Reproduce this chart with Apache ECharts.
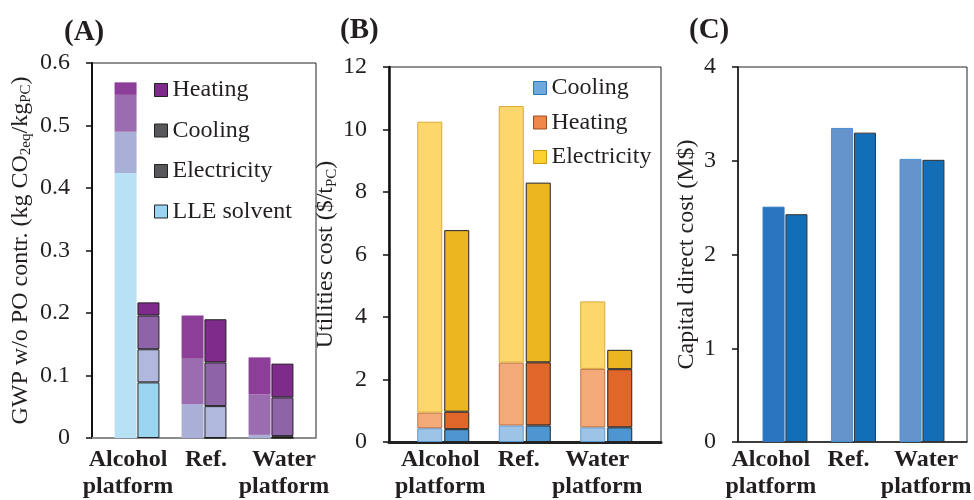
<!DOCTYPE html>
<html>
<head>
<meta charset="utf-8">
<script src="https://cdn.jsdelivr.net/npm/echarts@6/dist/echarts.min.js"></script>
<style>
  html, body { margin: 0; padding: 0; background: #fff; }
  #main { width: 974px; height: 500px; }
</style>
</head>
<body>
<div id="main"></div>
<script>
const categories = ['Alcohol\nplatform', 'Ref.', 'Water\nplatform']

// (A) GWP w/o PO contribution, stacked segments (bottom -> top); 1 = light bar, 2 = dark bar
const gwpLle1 = [0.424, 0, 0]
const gwpElec1 = [0.066, 0.054, 0.005]
const gwpCool1 = [0.059, 0.073, 0.065]
const gwpHeat1 = [0.020, 0.069, 0.059]
const gwpLle2 = [0.089, 0, 0]
const gwpElec2 = [0.053, 0.051, 0.003]
const gwpCool2 = [0.054, 0.070, 0.062]
const gwpHeat2 = [0.021, 0.069, 0.054]

// (B) utilities cost
const utilCool1 = [0.44, 0.53, 0.47]
const utilHeat1 = [0.50, 2.01, 1.87]
const utilElec1 = [9.31, 8.21, 2.16]
const utilCool2 = [0.41, 0.53, 0.47]
const utilHeat2 = [0.56, 2.02, 1.86]
const utilElec2 = [5.81, 5.75, 0.62]

// (C) capital direct cost
const capex1 = [2.51, 3.35, 3.02]
const capex2 = [2.43, 3.30, 3.01]

const FONT = 'Liberation Serif'
const TXT = '#231f20'

const grids = []
const xAxes = []
const yAxes = []
const series = []

function addGrid(rect, xAxis, yAxis) {
  grids.push(rect)
  const i = grids.length - 1
  xAxes.push(Object.assign({ gridIndex: i, type: 'category', data: categories }, xAxis))
  yAxes.push(Object.assign({ gridIndex: i, type: 'value' }, yAxis))
  return i
}

const nameRich = {
  b: { fontFamily: FONT, fontSize: 24, lineHeight: 27, color: TXT },
  s: { fontFamily: FONT, fontSize: 15, lineHeight: 10, verticalAlign: 'bottom', color: TXT },
}

function panel(p) {
  // frame box + y axis
  addGrid(
    { left: p.left, top: p.top, width: p.width, height: p.height, show: true, borderColor: '#222', borderWidth: 1 },
    {
      axisLine: { lineStyle: { color: p.baseColor, width: p.baseWidth } },
      axisTick: { show: false },
      axisLabel: { show: false },
    },
    {
      min: 0,
      max: p.max,
      interval: p.interval,
      axisLine: { show: true, lineStyle: { color: '#111', width: p.axisWidth } },
      axisTick: { show: true, length: 6, lineStyle: { color: '#111', width: 1.5 } },
      splitLine: { show: false },
      axisLabel: { margin: 22, fontFamily: FONT, fontSize: 24, color: TXT },
      name: p.name,
      nameLocation: 'middle',
      nameRotate: 90,
      nameGap: p.nameGap,
      nameTextStyle: { rich: nameRich },
    },
  )
  // category labels
  addGrid(
    { left: p.labelLeft, top: p.top, width: p.labelWidth, height: p.height },
    {
      axisLine: { show: false },
      axisTick: { show: false },
      axisLabel: { interval: 0, margin: 9, fontFamily: FONT, fontWeight: 'bold', fontSize: 24, lineHeight: 27, color: TXT },
    },
    { show: false, min: 0, max: p.max },
  )
  // bars
  const bi = addGrid(
    { left: p.barLeft, top: p.top, width: p.barSpan, height: p.height },
    { show: false },
    { show: false, min: 0, max: p.max },
  )
  p.bars.forEach((b) => {
    series.push({
      type: 'bar',
      name: b.name,
      xAxisIndex: bi,
      yAxisIndex: bi,
      stack: b.stack,
      data: b.data,
      barWidth: p.bw,
      barGap: p.gap,
      itemStyle: { color: b.color, borderColor: b.border || b.color, borderWidth: b.border ? 1 : 0 },
    })
  })
}

panel({
  left: 92, top: 63, width: 224, height: 375,
  labelLeft: 89, labelWidth: 234,
  barLeft: 103.5, barSpan: 201, bw: 22, gap: '4%',
  max: 0.6, interval: 0.1, axisWidth: 2, baseColor: '#8c8c8c', baseWidth: 2,
  name: '{b|GWP w/o PO contr. (kg CO}{s|2eq}{b|/kg}{s|PC}{b|)}', nameGap: 58,
  bars: [
    { name: 'LLE solvent', stack: 'A1', data: gwpLle1, color: '#b8e1f5' },
    { name: 'Electricity', stack: 'A1', data: gwpElec1, color: '#a9afd7' },
    { name: 'Cooling', stack: 'A1', data: gwpCool1, color: '#9c6cb1' },
    { name: 'Heating', stack: 'A1', data: gwpHeat1, color: '#8c3e99' },
    { name: 'LLE solvent', stack: 'A2', data: gwpLle2, color: '#9ad6f2', border: '#222' },
    { name: 'Electricity', stack: 'A2', data: gwpElec2, color: '#b0b8de', border: '#222' },
    { name: 'Cooling', stack: 'A2', data: gwpCool2, color: '#8f63a7', border: '#222' },
    { name: 'Heating', stack: 'A2', data: gwpHeat2, color: '#7f2b8c', border: '#222' },
  ],
})

panel({
  left: 389, top: 67, width: 272, height: 375,
  labelLeft: 401, labelWidth: 235.5,
  barLeft: 402.5, barSpan: 244.5, bw: 25, gap: '8%',
  max: 12, interval: 2, axisWidth: 2.5, baseColor: '#222', baseWidth: 3,
  name: '{b|Utilities cost ($/t}{s|PC}{b|)}', nameGap: 41,
  bars: [
    { name: 'Cooling', stack: 'B1', data: utilCool1, color: '#9dc3e6', border: '#5b9bd5' },
    { name: 'Heating', stack: 'B1', data: utilHeat1, color: '#f4aa78', border: '#c0724a' },
    { name: 'Electricity', stack: 'B1', data: utilElec1, color: '#fdd76c', border: '#d9a93a' },
    { name: 'Cooling', stack: 'B2', data: utilCool2, color: '#4e96d1', border: '#222' },
    { name: 'Heating', stack: 'B2', data: utilHeat2, color: '#e0662a', border: '#222' },
    { name: 'Electricity', stack: 'B2', data: utilElec2, color: '#ebb620', border: '#222' },
  ],
})

panel({
  left: 738, top: 67, width: 229, height: 375,
  labelLeft: 732, labelWidth: 235.5,
  barLeft: 750.75, barSpan: 205.5, bw: 22, gap: '4%',
  max: 4, interval: 1, axisWidth: 1.5, baseColor: '#222', baseWidth: 1.5,
  name: '{b|Capital direct cost (M$)}', nameGap: 38,
  bars: [
    {
      name: 'capex1', stack: 'C1', border: '#4a8ed4', color: '#6593cc',
      data: capex1.map((v, i) => (i === 0 ? { value: v, itemStyle: { color: '#2b74bf', borderColor: '#2b74bf' } } : v)),
    },
    { name: 'capex2', stack: 'C2', data: capex2, color: '#136eb8', border: '#333' },
  ],
})

function legendItem(name, color, border) {
  return { name, itemStyle: { color, borderColor: border, borderWidth: 1 } }
}

const titleStyle = { fontFamily: FONT, fontWeight: 'bold', fontSize: 29, color: TXT }

const option = {
  animation: false,
  backgroundColor: '#fff',
  title: [
    { text: '(A)', left: 64, top: 18, padding: 0, textStyle: titleStyle },
    { text: '(B)', left: 340, top: 16, padding: 0, textStyle: titleStyle },
    { text: '(C)', left: 689, top: 16, padding: 0, textStyle: titleStyle },
  ],
  legend: [
    {
      orient: 'vertical', left: 154, top: 78, padding: 0,
      icon: 'rect', itemWidth: 13, itemHeight: 13, itemGap: 16.5, itemTextGap: 6,
      selectedMode: false,
      textStyle: { fontFamily: FONT, fontSize: 24, color: TXT },
      data: [
        legendItem('Heating', '#7f2b8c', '#222'),
        legendItem('Cooling', '#58585a', '#222'),
        legendItem('Electricity', '#58585a', '#222'),
        legendItem('LLE solvent', '#99d5f2', '#222'),
      ],
    },
    {
      orient: 'vertical', left: 533, top: 76, padding: 0,
      icon: 'rect', itemWidth: 13, itemHeight: 13, itemGap: 10.5, itemTextGap: 6,
      selectedMode: false,
      textStyle: { fontFamily: FONT, fontSize: 24, color: TXT },
      data: [
        legendItem('Cooling', '#6fa8dc', '#2e75b6'),
        legendItem('Heating', '#f0884a', '#9c4a1e'),
        legendItem('Electricity', '#ffd02e', '#c99b10'),
      ],
    },
  ],
  grid: grids,
  xAxis: xAxes,
  yAxis: yAxes,
  series: series,
}

const chart = echarts.init(document.getElementById('main'), null, { renderer: 'canvas' })
chart.setOption(option)
</script>
</body>
</html>
